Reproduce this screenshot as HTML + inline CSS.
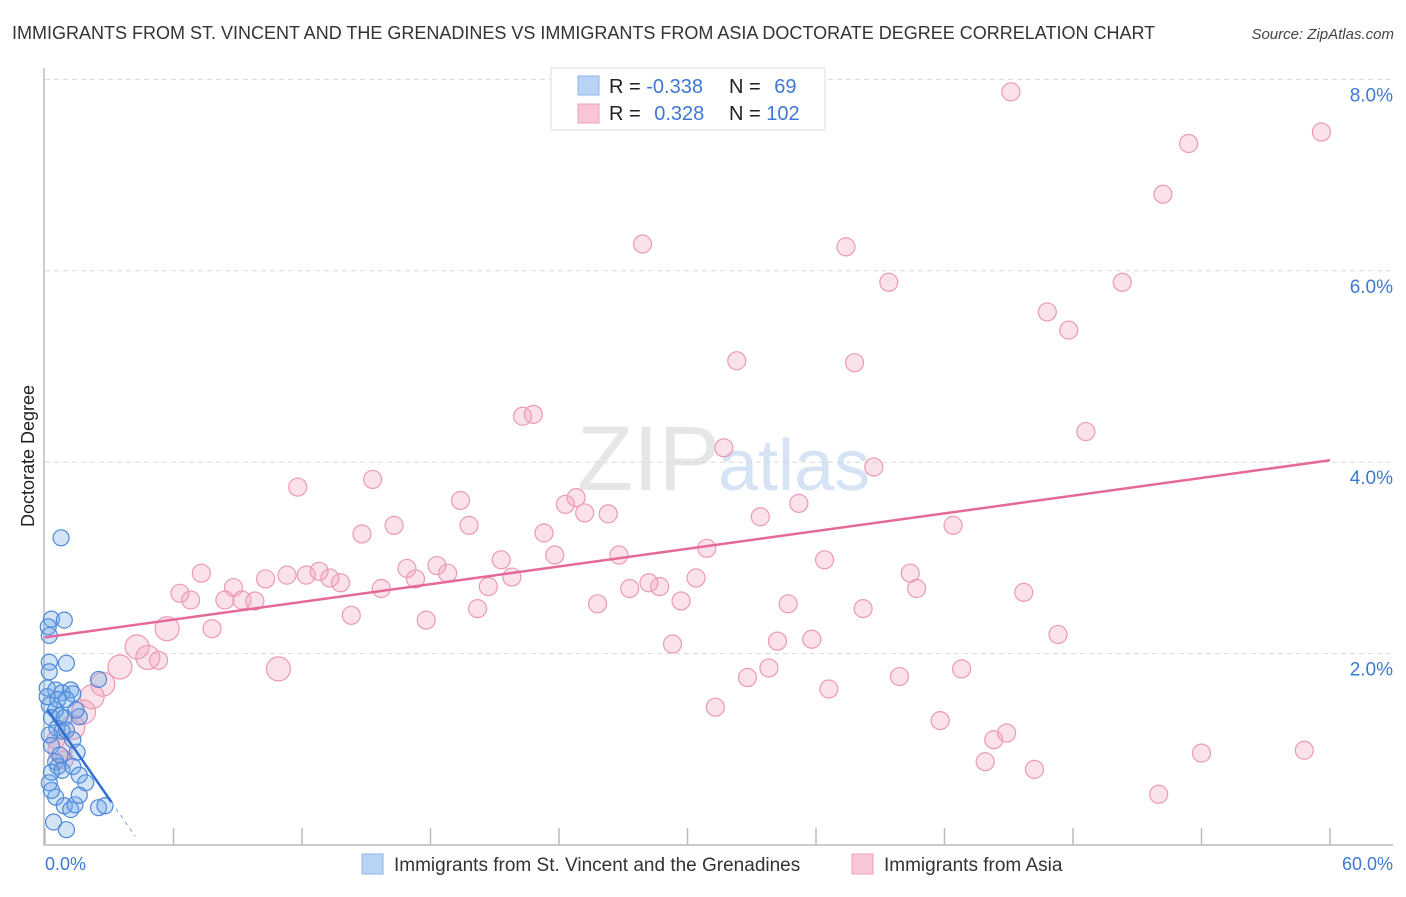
<!DOCTYPE html>
<html><head><meta charset="utf-8"><style>
body{margin:0;background:#fff;font-family:"Liberation Sans",sans-serif;}
svg text{font-family:"Liberation Sans",sans-serif;}
</style></head><body>
<svg id="chart" width="1406" height="892" viewBox="0 0 1406 892">
<text x="12" y="39" font-size="18" fill="#333">IMMIGRANTS FROM ST. VINCENT AND THE GRENADINES VS IMMIGRANTS FROM ASIA DOCTORATE DEGREE CORRELATION CHART</text>
<text x="1394" y="39" font-size="15" fill="#444" font-style="italic" text-anchor="end">Source: ZipAtlas.com</text>
<text x="720" y="490" font-size="92" fill="#e6e6e6" text-anchor="end" font-family="Liberation Serif">ZIP</text>
<text x="718" y="490" font-size="72" fill="#d5e3f5">atlas</text>
<g id="grid"></g>
<g id="axes"></g>
<g id="pink"></g>
<g id="blue"></g>
<g id="lines"></g>
<text transform="translate(34,456) rotate(-90)" font-size="18" fill="#222" text-anchor="middle">Doctorate Degree</text>
<text x="45" y="870" font-size="18" fill="#3f78d4">0.0%</text>
<text x="1393" y="870" font-size="18" fill="#3f78d4" text-anchor="end">60.0%</text>
<g>
<rect x="551" y="68" width="274" height="62" fill="#fff" stroke="#ddd"/>
<rect x="578" y="76" width="21" height="19" fill="#b8d3f5" stroke="#8bb4ea"/>
<rect x="578" y="104" width="21" height="19" fill="#f8c6d4" stroke="#eea0b8"/>
<text x="609" y="93" font-size="20" fill="#222">R = <tspan fill="#3f78d4">-0.338</tspan></text>
<text x="729" y="93" font-size="20" fill="#222">N = <tspan fill="#3f78d4" dx="8">69</tspan></text>
<text x="609" y="120" font-size="20" fill="#222">R = <tspan fill="#3f78d4" dx="8">0.328</tspan></text>
<text x="729" y="120" font-size="20" fill="#222">N = <tspan fill="#3f78d4">102</tspan></text>
</g>
<g>
<rect x="362" y="854" width="21" height="20" fill="#b8d3f5" stroke="#8bb4ea"/>
<text x="394" y="871" font-size="19" fill="#333">Immigrants from St. Vincent and the Grenadines</text>
<rect x="852" y="854" width="21" height="20" fill="#f8c6d4" stroke="#eea0b8"/>
<text x="884" y="871" font-size="19" fill="#333">Immigrants from Asia</text>
</g>
</svg>
<script>
const yTicks=[2,4,6,8];
const yTickLabels=["2.0%","4.0%","6.0%","8.0%"];
const xTicks=[0,6,12,18,24,30,36,42,48,54,60];
const pinkX=[45.1,53.4,59.6,52.2,27.9,37.4,39.4,50.3,46.8,47.8,32.3,37.8,22.3,22.8,48.6,31.7,38.7,11.8,15.3,19.4,24.8,24.3,35.2,25.2,26.3,33.4,16.3,19.8,42.4,14.8,23.3,30.9,21.3,23.8,26.8,36.4,7.3,10.3,11.3,12.2,12.8,13.3,13.8,16.9,17.3,18.3,18.8,21.8,20.7,30.4,28.2,28.7,27.3,40.4,40.7,45.7,6.3,6.8,8.4,8.8,9.2,9.8,15.7,25.8,29.7,34.7,20.2,14.3,17.8,38.2,5.7,7.8,29.3,34.2,35.8,47.3,4.3,4.8,5.3,3.5,10.9,33.8,42.8,32.8,39.9,36.6,2.7,2.2,1.8,31.3,41.8,44.9,44.3,1.3,54.0,58.8,43.9,46.2,52.0,0.7,0.5,0.9];
const pinkY=[7.87,7.33,7.45,6.80,6.28,6.25,5.88,5.88,5.57,5.38,5.06,5.04,4.48,4.50,4.32,4.15,3.95,3.74,3.82,3.60,3.63,3.56,3.57,3.47,3.46,3.43,3.34,3.34,3.34,3.25,3.26,3.10,2.98,3.03,3.03,2.98,2.84,2.78,2.82,2.82,2.86,2.79,2.74,2.89,2.78,2.92,2.84,2.80,2.70,2.79,2.74,2.70,2.68,2.84,2.68,2.64,2.63,2.56,2.56,2.69,2.56,2.55,2.68,2.52,2.55,2.52,2.47,2.40,2.35,2.47,2.26,2.26,2.10,2.13,2.15,2.20,2.07,1.96,1.93,1.86,1.84,1.85,1.84,1.75,1.76,1.63,1.68,1.55,1.39,1.44,1.30,1.17,1.10,1.23,0.96,0.99,0.87,0.79,0.53,0.99,1.10,0.89];
const pinkBig=[70,76,77,79,80,86,87,88,93,99];
const blueX=[0.75,0.3,0.9,0.15,0.2,0.2,1.0,0.2,0.1,0.5,0.8,1.2,1.3,2.5,0.2,0.5,0.3,0.7,0.9,1.6,0.55,0.8,1.0,1.3,1.5,0.2,0.3,0.5,0.6,0.3,0.8,1.3,1.6,1.9,0.2,0.5,0.9,1.2,1.4,1.6,2.5,2.8,0.4,1.0,0.7,0.1,0.6,1.0,1.45,0.3];
const blueY=[3.21,2.36,2.35,2.28,2.19,1.91,1.90,1.81,1.64,1.62,1.59,1.62,1.58,1.73,1.46,1.41,1.33,1.35,1.33,1.34,1.22,1.19,1.20,1.10,0.97,1.15,1.04,0.87,0.82,0.76,0.78,0.82,0.73,0.65,0.65,0.50,0.41,0.37,0.42,0.52,0.39,0.41,0.24,0.16,0.94,1.55,1.52,1.52,1.41,0.57];
const pinkTrend=[2.17,4.02];
const blueTrend=[1.45,-0.323];
const X=v=>45+v*(1330-45)/60;
const Y=v=>845-v*95.7;
const NS="http://www.w3.org/2000/svg";
function mk(parent,tag,attrs){const e=document.createElementNS(NS,tag);for(const k in attrs)e.setAttribute(k,attrs[k]);document.getElementById(parent).appendChild(e);return e;}
yTicks.forEach((t,i)=>{
  const g=mk('grid','line',{x1:45,x2:1393,y1:Y(t),y2:Y(t),stroke:'#d8d8d8','stroke-dasharray':'5,4'});
  
  
  const l=mk('grid','text',{x:1393,y:Y(t)+22,'font-size':19,fill:'#3f78d4','text-anchor':'end'});
  l.textContent=yTickLabels[i];
  
  
});
const ax=mk('axes','path',{d:`M44,68V845H1393`,fill:'none',stroke:'#bbb','stroke-width':1.5});


xTicks.forEach(t=>{
  const tk=mk('axes','line',{x1:X(t),x2:X(t),y1:828,y2:845,stroke:'#bbb','stroke-width':1.5});
  
  
});
pinkX.forEach((x,i)=>{
  const c=mk('pink','circle',{cx:X(x),cy:Y(pinkY[i]),r:pinkBig.includes(i)?12:9,fill:'rgba(242,160,185,0.3)',stroke:'#ec9ab3','stroke-width':1.2});
  
  
});
blueX.forEach((x,i)=>{
  const c=mk('blue','circle',{cx:X(x),cy:Y(blueY[i]),r:8,fill:'rgba(110,165,230,0.3)',stroke:'#4d89dc','stroke-width':1.2});
  
  
});
const pl=mk('lines','line',{x1:X(0),y1:Y(pinkTrend[0]),x2:X(60),y2:Y(pinkTrend[1]),stroke:'#e5689a','stroke-width':2.5});


const bf=v=>blueTrend[0]+blueTrend[1]*v;
const bl=mk('lines','line',{x1:X(0.1),y1:Y(bf(0.1)),x2:X(3.1),y2:Y(bf(3.1)),stroke:'#2f6fd0','stroke-width':2.5});


const bd=mk('lines','line',{x1:X(3.1),y1:Y(bf(3.1)),x2:X(4.2),y2:Y(bf(4.2)),stroke:'#7aa3de','stroke-width':1,'stroke-dasharray':'4,4'});


</script>
</body></html>
